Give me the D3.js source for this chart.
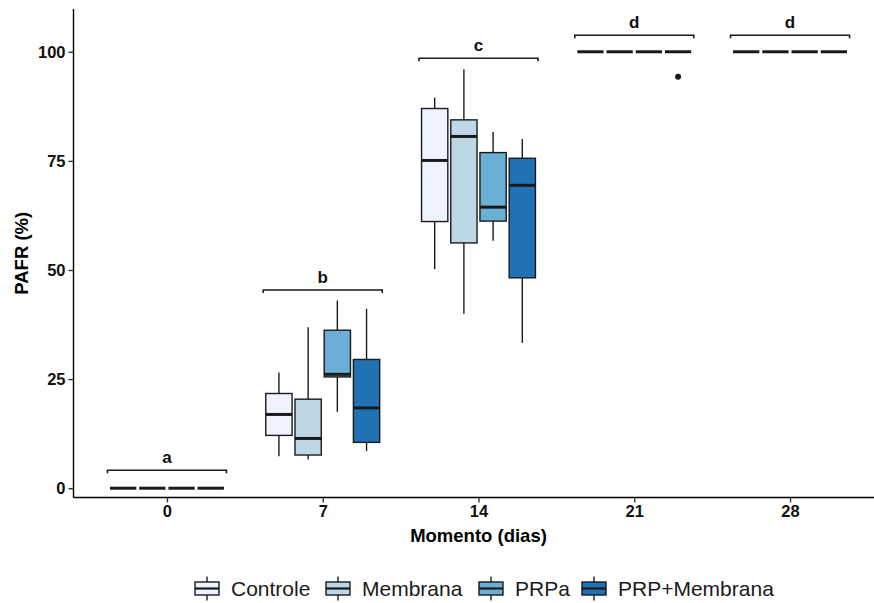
<!DOCTYPE html>
<html>
<head>
<meta charset="utf-8">
<script src="https://cdn.jsdelivr.net/npm/d3@7/dist/d3.min.js"></script>
<style>
  html, body { margin: 0; padding: 0; background: #fff; }
  svg { display: block; }
  text { font-family: "Liberation Sans", Arial, sans-serif; }
</style>
</head>
<body>
<svg id="chart" width="874" height="603"></svg>
<script>
// ---- data ----
const days = ["0", "7", "14", "21", "28"];
const groups = ["Controle", "Membrana", "PRPa", "PRP+Membrana"];
const colors = ["#EFF3FF", "#BDD7E7", "#6BAED6", "#2171B5"];

// five-number summaries per group, one value per day
const whiskerLow = {
  "Controle":     [0, 7.3, 50.2, 100, 100],
  "Membrana":     [0, 6.6, 40.0, 100, 100],
  "PRPa":         [0, 17.5, 56.7, 100, 100],
  "PRP+Membrana": [0, 8.5, 33.3, 100, 100]
};
const q1 = {
  "Controle":     [0, 12.1, 61.1, 100, 100],
  "Membrana":     [0, 7.6, 56.2, 100, 100],
  "PRPa":         [0, 25.5, 61.2, 100, 100],
  "PRP+Membrana": [0, 10.5, 48.2, 100, 100]
};
const median = {
  "Controle":     [0, 16.9, 75.1, 100, 100],
  "Membrana":     [0, 11.4, 80.6, 100, 100],
  "PRPa":         [0, 26.1, 64.4, 100, 100],
  "PRP+Membrana": [0, 18.4, 69.4, 100, 100]
};
const q3 = {
  "Controle":     [0, 21.7, 87.0, 100, 100],
  "Membrana":     [0, 20.4, 84.4, 100, 100],
  "PRPa":         [0, 36.2, 76.9, 100, 100],
  "PRP+Membrana": [0, 29.5, 75.6, 100, 100]
};
const whiskerHigh = {
  "Controle":     [0, 26.5, 89.5, 100, 100],
  "Membrana":     [0, 36.9, 96.0, 100, 100],
  "PRPa":         [0, 43.0, 81.6, 100, 100],
  "PRP+Membrana": [0, 41.1, 80.0, 100, 100]
};
const outliers = [{ day: "21", group: "PRP+Membrana", value: 94.3 }];

const letterLabels = ["a", "b", "c", "d", "d"];
const letterHeights = [4.1, 45.4, 98.5, 103.8, 103.8];

const yTicks = [0, 25, 50, 75, 100];
const xTitle = "Momento (dias)";
const yTitle = "PAFR (%)";

// ---- layout ----
const svg = d3.select("#chart");
const pLeft = 73.5, pRight = 883.5, pTop = 9, pBottom = 497.5;

const x = d3.scalePoint().domain(days).range([pLeft, pRight]).padding(0.6);
const step = x.step();
const dodge = step * 0.75 / groups.length;
const boxW = dodge * 0.9;
const y = d3.scaleLinear().domain([-2.13, 109.8]).range([pBottom, pTop]);

const gx = (day, gi) => x(day) + (gi - (groups.length - 1) / 2) * dodge;

// ---- boxes ----
const boxLayer = svg.append("g");
groups.forEach((g, gi) => {
  days.forEach((d, di) => {
    const cx = gx(d, gi);
    const gg = boxLayer.append("g");
    gg.append("line")
      .attr("x1", cx).attr("x2", cx)
      .attr("y1", y(q3[g][di])).attr("y2", y(whiskerHigh[g][di]))
      .attr("stroke", "#1a1a1a").attr("stroke-width", 1.4);
    gg.append("line")
      .attr("x1", cx).attr("x2", cx)
      .attr("y1", y(q1[g][di])).attr("y2", y(whiskerLow[g][di]))
      .attr("stroke", "#1a1a1a").attr("stroke-width", 1.4);
    gg.append("rect")
      .attr("x", cx - boxW / 2).attr("width", boxW)
      .attr("y", y(q3[g][di])).attr("height", Math.max(0, y(q1[g][di]) - y(q3[g][di])))
      .attr("fill", colors[gi]).attr("stroke", "#1a1a1a").attr("stroke-width", 1.4);
    gg.append("line")
      .attr("x1", cx - boxW / 2).attr("x2", cx + boxW / 2)
      .attr("y1", y(median[g][di])).attr("y2", y(median[g][di]))
      .attr("stroke", "#1a1a1a").attr("stroke-width", 3);
  });
});

svg.append("g").selectAll("circle").data(outliers).join("circle")
  .attr("cx", o => gx(o.day, groups.indexOf(o.group)))
  .attr("cy", o => y(o.value))
  .attr("r", 3)
  .attr("fill", "#1a1a1a");

// ---- significance brackets ----
const br = svg.append("g");
days.forEach((d, di) => {
  const x1 = x(d) - 0.382 * step, x2 = x(d) + 0.382 * step;
  const yy = y(letterHeights[di]);
  br.append("path")
    .attr("d", `M${x1},${yy + 3}V${yy}H${x2}V${yy + 3}`)
    .attr("fill", "none").attr("stroke", "#1a1a1a").attr("stroke-width", 1.6);
  br.append("text")
    .attr("x", x(d)).attr("y", yy - 7)
    .attr("text-anchor", "middle")
    .attr("font-size", 17).attr("font-weight", "bold").attr("fill", "#111")
    .text(letterLabels[di]);
});

// ---- axes ----
const xAxis = svg.append("g")
  .attr("transform", `translate(0,${pBottom})`)
  .call(d3.axisBottom(x).tickSize(5).tickSizeOuter(0).tickPadding(3));
const yAxis = svg.append("g")
  .attr("transform", `translate(${pLeft},0)`)
  .call(d3.axisLeft(y).tickValues(yTicks).tickSize(5).tickSizeOuter(0).tickPadding(3));

[xAxis, yAxis].forEach(a => {
  a.select(".domain").attr("stroke", "#000").attr("stroke-width", 1.4);
  a.selectAll(".tick line").attr("stroke", "#333").attr("stroke-width", 1.4);
  a.selectAll(".tick text")
    .attr("font-size", 16.5).attr("font-weight", "bold").attr("fill", "#111")
    .style("font-family", '"Liberation Sans", Arial, sans-serif');
});
yAxis.select(".domain").attr("d", `M0,${pTop}V${pBottom}`);
xAxis.select(".domain").attr("d", `M${pLeft},0H${pRight}`);

svg.append("text")
  .attr("x", (pLeft + pRight) / 2).attr("y", 542)
  .attr("text-anchor", "middle")
  .attr("font-size", 18.5).attr("font-weight", "bold").attr("fill", "#000")
  .text(xTitle);
svg.append("text")
  .attr("transform", `translate(28,${(pTop + pBottom) / 2}) rotate(-90)`)
  .attr("text-anchor", "middle")
  .attr("font-size", 18.5).attr("font-weight", "bold").attr("fill", "#000")
  .text(yTitle);

// ---- legend ----
const legendX = [195, 326, 479, 582];
const legendY = 588.5;
const lg = svg.append("g");
groups.forEach((g, gi) => {
  const kx = legendX[gi], kw = 24;
  const cx = kx + kw / 2;
  lg.append("line").attr("x1", cx).attr("x2", cx).attr("y1", legendY - 12).attr("y2", legendY + 12)
    .attr("stroke", "#1a1a1a").attr("stroke-width", 1.4);
  lg.append("rect").attr("x", kx).attr("y", legendY - 6.5).attr("width", kw).attr("height", 13)
    .attr("fill", colors[gi]).attr("stroke", "#1a1a1a").attr("stroke-width", 1.4);
  lg.append("line").attr("x1", kx).attr("x2", kx + kw).attr("y1", legendY).attr("y2", legendY)
    .attr("stroke", "#1a1a1a").attr("stroke-width", 2.2);
  lg.append("text").attr("x", kx + kw + 12).attr("y", legendY + 7.5)
    .attr("font-size", 21).attr("fill", "#1a1a1a")
    .text(g);
});
</script>
</body>
</html>
